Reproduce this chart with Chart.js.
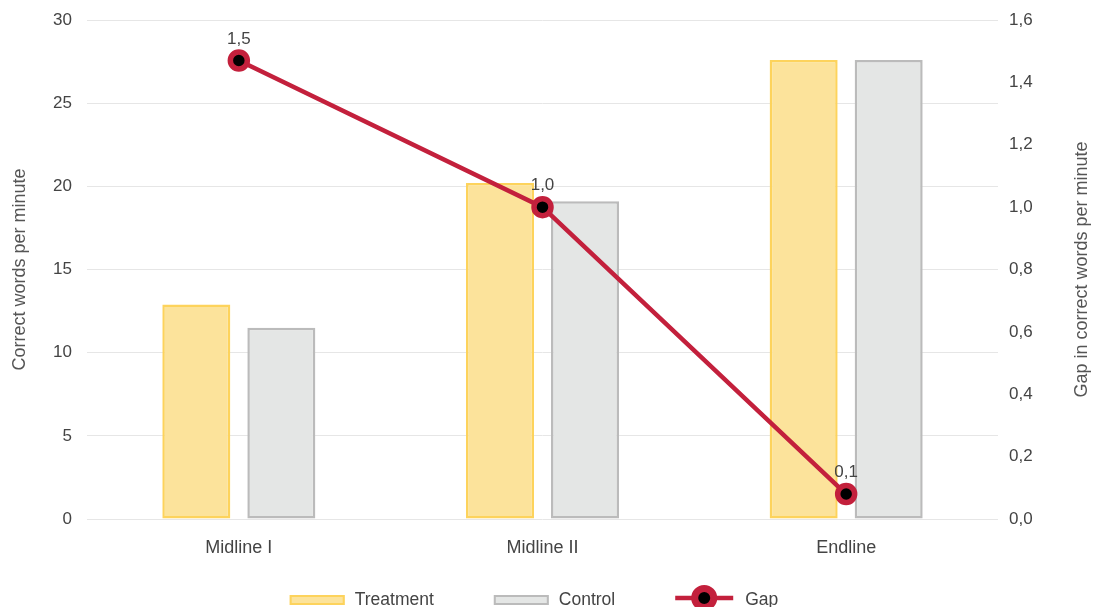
<!DOCTYPE html>
<html>
<head>
<meta charset="utf-8">
<title>Correct words per minute</title>
<script src="https://cdn.jsdelivr.net/npm/chart.js@4.4.0/dist/chart.umd.min.js"></script>
<style>
  html, body { margin: 0; padding: 0; background: #ffffff; }
  #wrap { width: 1095px; height: 607px; }
</style>
</head>
<body>
<div id="wrap"><canvas id="c" width="1095" height="607"></canvas></div>
<script>
// Data
const categories = ['Midline I', 'Midline II', 'Endline'];
const treatment = [12.9, 20.2, 27.6];
const control = [11.5, 19.1, 27.6];
const gap = [1.47, 1.0, 0.08];
const leftTicks = [0, 5, 10, 15, 20, 25, 30];
const rightTicks = [0, 0.2, 0.4, 0.6, 0.8, 1.0, 1.2, 1.4, 1.6];

const FONT = "'Liberation Sans', Arial, Helvetica, sans-serif";
const comma = (v, d) => v.toFixed(d).replace('.', ',');

const COLORS = {
  tFill: '#fce39b', tLine: '#fdd35c',
  cFill: '#e4e6e5', cLine: '#bbbbbb',
  gap: '#c3203c', dot: '#000000',
  text: '#444444', title: '#555555', grid: '#e6e6e6'
};

// Value labels above the gap points
const valueLabels = {
  id: 'valueLabels',
  afterDatasetsDraw(chart) {
    const ctx = chart.ctx;
    const meta = chart.getDatasetMeta(0);
    ctx.save();
    ctx.font = '17px ' + FONT;
    ctx.fillStyle = COLORS.text;
    ctx.textAlign = 'center';
    ctx.textBaseline = 'alphabetic';
    meta.data.forEach((pt, i) => {
      ctx.fillText(comma(gap[i], 1), pt.x, pt.y - 17);
    });
    ctx.restore();
  }
};

// Right axis title reading bottom-to-top, and the legend row
const extras = {
  id: 'extras',
  afterDraw(chart) {
    const ctx = chart.ctx;
    const area = chart.chartArea;
    ctx.save();
    ctx.font = '18px ' + FONT;
    ctx.fillStyle = COLORS.title;
    ctx.textAlign = 'center';
    ctx.textBaseline = 'middle';
    ctx.translate(1082, (area.top + area.bottom) / 2);
    ctx.rotate(-Math.PI / 2);
    ctx.fillText('Gap in correct words per minute', 0, 0);
    ctx.restore();

    // legend
    const ds = chart.data.datasets;
    const items = [ds[1], ds[2], ds[0]];
    ctx.save();
    ctx.font = '17.5px ' + FONT;
    const markW = [55, 55, 58];
    const textGap = [10, 10, 12];
    const itemGap = 60;
    let total = 0;
    items.forEach((d, i) => {
      total += markW[i] + textGap[i] + ctx.measureText(d.label).width;
      if (i < items.length - 1) total += itemGap;
    });
    let x = 534 - total / 2;
    const cy = 600;
    items.forEach((d, i) => {
      if (d.type === 'line') {
        ctx.strokeStyle = d.borderColor;
        ctx.lineWidth = 4.5;
        ctx.beginPath();
        ctx.moveTo(x, cy - 2);
        ctx.lineTo(x + markW[i], cy - 2);
        ctx.stroke();
        ctx.beginPath();
        ctx.arc(x + markW[i] / 2, cy - 2, 9.5, 0, Math.PI * 2);
        ctx.fillStyle = d.pointBackgroundColor;
        ctx.fill();
        ctx.lineWidth = 7;
        ctx.stroke();
      } else {
        ctx.fillStyle = d.backgroundColor;
        ctx.fillRect(x, cy - 5, markW[i], 10);
        ctx.strokeStyle = d.borderColor;
        ctx.lineWidth = 2;
        ctx.strokeRect(x + 1, cy - 4, markW[i] - 2, 8);
      }
      x += markW[i] + textGap[i];
      ctx.fillStyle = COLORS.text;
      ctx.textAlign = 'left';
      ctx.textBaseline = 'alphabetic';
      ctx.fillText(d.label, x, cy + 5);
      x += ctx.measureText(d.label).width + itemGap;
    });
    ctx.restore();
  }
};

new Chart(document.getElementById('c'), {
  data: {
    labels: categories,
    datasets: [
      {
        type: 'line',
        label: 'Gap',
        data: gap,
        yAxisID: 'y1',
        borderColor: COLORS.gap,
        borderWidth: 4.5,
        pointRadius: 8.5,
        pointHoverRadius: 8.5,
        pointBorderWidth: 5.5,
        pointBorderColor: COLORS.gap,
        pointBackgroundColor: COLORS.dot,
        tension: 0,
        order: 0
      },
      {
        type: 'bar',
        label: 'Treatment',
        data: treatment,
        yAxisID: 'y',
        backgroundColor: COLORS.tFill,
        borderColor: COLORS.tLine,
        borderWidth: 2.5,
        borderSkipped: false,
        barPercentage: 0.8,
        categoryPercentage: 0.56,
        order: 1
      },
      {
        type: 'bar',
        label: 'Control',
        data: control,
        yAxisID: 'y',
        backgroundColor: COLORS.cFill,
        borderColor: COLORS.cLine,
        borderWidth: 2.5,
        borderSkipped: false,
        barPercentage: 0.8,
        categoryPercentage: 0.56,
        order: 1
      }
    ]
  },
  options: {
    responsive: false,
    devicePixelRatio: 1,
    animation: false,
    layout: { padding: { top: 20, bottom: 40, left: 0, right: 0 } },
    plugins: {
      legend: { display: false },
      tooltip: { enabled: false }
    },
    scales: {
      x: {
        grid: { display: false, drawTicks: false },
        border: { display: false },
        ticks: { color: COLORS.text, font: { family: FONT, size: 18 }, padding: 18 },
        afterFit(s) { s.height = 48; }
      },
      y: {
        position: 'left',
        min: 0, max: 30,
        afterBuildTicks(s) { s.ticks = leftTicks.map(v => ({ value: v })); },
        grid: { color: COLORS.grid, drawTicks: false, lineWidth: 1 },
        border: { display: false },
        ticks: { color: COLORS.text, font: { family: FONT, size: 17 }, padding: 15 },
        title: {
          display: true, text: 'Correct words per minute',
          color: COLORS.title, font: { family: FONT, size: 18 },
          padding: { top: 9, bottom: 0 }
        },
        afterFit(s) { s.width = 87; s.paddingTop = 0; s.paddingBottom = 0; }
      },
      y1: {
        position: 'right',
        min: 0, max: 1.6,
        afterBuildTicks(s) { s.ticks = rightTicks.map(v => ({ value: v })); },
        grid: { display: false, drawTicks: false },
        border: { display: false },
        ticks: {
          color: COLORS.text, font: { family: FONT, size: 17 }, padding: 11,
          callback: (v) => comma(v, 1)
        },
        afterFit(s) { s.width = 97; s.paddingTop = 0; s.paddingBottom = 0; }
      }
    }
  },
  plugins: [valueLabels, extras]
});
</script>
</body>
</html>
